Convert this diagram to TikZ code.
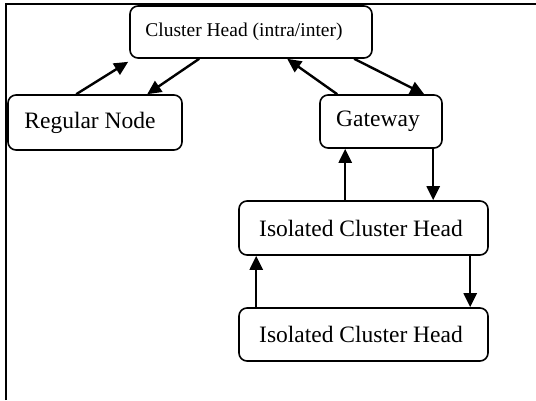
\documentclass[tikz,border=0pt]{standalone}
\usepackage{fontspec}
\setmainfont{Liberation Serif}
\usetikzlibrary{arrows.meta,calc}
\begin{document}
\begin{tikzpicture}[x=1pt,y=-1pt,
  box/.style={draw,line width=1.6pt,rounded corners=8pt,inner sep=0pt,align=center},
  big/.style={font=\fontsize{23.5}{26}\selectfont},
  link/.style={line width=2.4pt,-{Triangle[length=14pt,width=13pt]}}]
\useasboundingbox (0,0) rectangle (536,400);
% open frame (top and left edges)
\draw[line width=1.8pt] (6,400) -- (6,4) -- (536,4);

% nodes (trailing space sets each label a little left of the box centre)
\node[box,minimum width=242pt,minimum height=52pt,font=\fontsize{19.5}{22}\selectfont] (ch) at (251,32) {Cluster Head (intra/inter)\hspace*{14pt}};
\node[box,big,minimum width=174pt,minimum height=55pt] (reg) at (95,122.5) {Regular Node\hspace*{10pt}};
\node[box,big,minimum width=122pt,minimum height=53pt] (gw) at (381,121.5) {Gateway\hspace*{6pt}};
\node[box,big,minimum width=249pt,minimum height=54pt] (iso1) at (363.5,228) {Isolated Cluster Head\hspace*{5pt}};
\node[box,big,minimum width=249pt,minimum height=53pt] (iso2) at (363.5,334.5) {Isolated Cluster Head\hspace*{5pt}};

% connector endpoints on the box borders
\coordinate (r1) at ($(reg.north west)+(69,0)$);
\coordinate (r2) at ($(reg.north west)+(140,0)$);
\coordinate (c1) at ($(ch.south west)+(-1,3)$);
\coordinate (c2) at ($(ch.south west)+(70,0)$);
\coordinate (c3) at ($(ch.south west)+(158,0)$);
\coordinate (c4) at ($(ch.south west)+(225,0)$);
\coordinate (g1) at ($(gw.north west)+(18,0)$);
\coordinate (g2) at ($(gw.north west)+(105,0)$);
\coordinate (g3) at ($(gw.south west)+(114,0)$);
\coordinate (i1) at ($(iso1.north west)+(107,0)$);
\coordinate (i2) at ($(iso1.south west)+(232,0)$);
\coordinate (i3) at ($(iso2.north west)+(18,0)$);

% connectors
\draw[link] (r1) -- (c1);
\draw[link] (c2) -- (r2);
\draw[link] (g1) -- (c3);
\draw[link] (c4) -- (g2);
\draw[link] (i1) -- (i1 |- gw.south);
\draw[link] (g3) -- (g3 |- iso1.north);
\draw[link] (i3) -- (i3 |- iso1.south);
\draw[link] (i2) -- (i2 |- iso2.north);
\end{tikzpicture}
\end{document}
